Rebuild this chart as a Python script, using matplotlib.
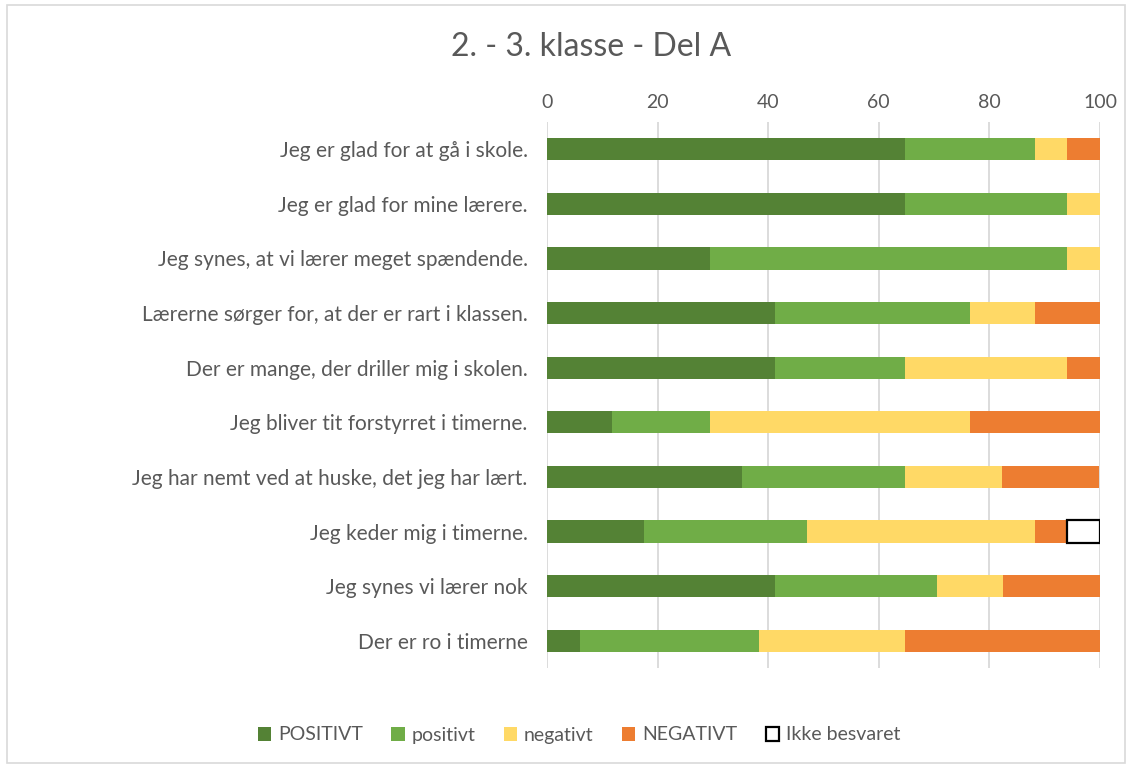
import matplotlib.pyplot as plt
from matplotlib.patches import Patch
import numpy as np

plt.rcParams['font.family'] = ['Lato', 'DejaVu Sans']

# Spørgsmål (øverst -> nederst)
questions = [
    'Jeg er glad for at gå i skole.',
    'Jeg er glad for mine lærere.',
    'Jeg synes, at vi lærer meget spændende.',
    'Lærerne sørger for, at der er rart i klassen.',
    'Der er mange, der driller mig i skolen.',
    'Jeg bliver tit forstyrret i timerne.',
    'Jeg har nemt ved at huske, det jeg har lært.',
    'Jeg keder mig i timerne.',
    'Jeg synes vi lærer nok',
    'Der er ro i timerne',
]

POSITIVT = [64.7, 64.7, 29.4, 41.2, 41.2, 11.8, 35.3, 17.6, 41.2, 5.9]
positivt = [23.5, 29.4, 64.7, 35.3, 23.5, 17.6, 29.4, 29.4, 29.4, 32.4]
negativt = [5.9, 5.9, 5.9, 11.8, 29.4, 47.1, 17.6, 41.2, 11.8, 26.5]
NEGATIVT = [5.9, 0.0, 0.0, 11.8, 5.9, 23.5, 17.6, 5.9, 17.6, 35.3]
ikke_besvaret = [0, 0, 0, 0, 0, 0, 0, 5.9, 0, 0]

series = [
    ('POSITIVT', POSITIVT, '#548235'),
    ('positivt', positivt, '#70AD47'),
    ('negativt', negativt, '#FFD966'),
    ('NEGATIVT', NEGATIVT, '#ED7D31'),
]

txt = '#595959'

fig = plt.figure(figsize=(11.32, 7.66), dpi=100)
ax = fig.add_axes([547 / 1132, 1 - 668 / 766, 553 / 1132, 546 / 766])

y = np.arange(len(questions))
left = np.zeros(len(questions))
for name, vals, col in series:
    ax.barh(y, vals, left=left, height=0.41, color=col, zorder=3)
    left += np.array(vals)

ikke = np.array(ikke_besvaret)
ax.barh(y[ikke > 0], ikke[ikke > 0], left=left[ikke > 0], height=0.41,
        facecolor='white', edgecolor='black', linewidth=1.6, zorder=3)

ax.set_xlim(0, 100)
ax.set_ylim(len(questions) - 0.5, -0.5)
ax.set_yticks(y)
ax.set_yticklabels(questions, fontsize=15, color=txt)
ax.set_xticks(np.arange(0, 101, 20))
ax.xaxis.tick_top()
ax.tick_params(axis='x', labelsize=14, labelcolor=txt, length=0, pad=8)
ax.tick_params(axis='y', length=0, pad=14)
ax.grid(axis='x', color='#D9D9D9', linewidth=1.3, zorder=0)
for s in ax.spines.values():
    s.set_visible(False)

fig.text(591 / 1132, 1 - 47 / 766, '2. - 3. klasse - Del A', ha='center', va='center',
         fontsize=23, color=txt)

handles = [Patch(facecolor=c, label=n) for n, _, c in series]
handles.append(Patch(facecolor='white', edgecolor='black', linewidth=1.6, label='Ikke besvaret'))
fig.legend(handles=handles, loc='center', bbox_to_anchor=(579 / 1132, 1 - 735 / 766), ncol=5,
           frameon=False, fontsize=14, handlelength=0.7, handleheight=0.7,
           handletextpad=0.35, columnspacing=1.45, labelcolor=txt)

# chart area border
fig.patches.append(plt.Rectangle((0.006, 0.004), 0.988, 0.99, transform=fig.transFigure,
                                 fill=False, edgecolor='#D9D9D9', linewidth=1.2))

fig.savefig('out.png', dpi=100)
